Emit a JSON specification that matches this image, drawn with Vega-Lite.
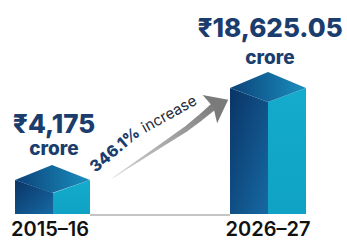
{
  "$schema": "https://vega.github.io/schema/vega-lite/v6.json",
  "width": 347,
  "height": 241,
  "autosize": {"type": "none"},
  "padding": 0,
  "background": "white",
  "config": {"view": {"stroke": null}},
  "datasets": {
    "faces": [
      {"bar": "2015–16", "face": "left", "x": 15, "top": 34, "base": 0},
      {"bar": "2015–16", "face": "left", "x": 53, "top": 21, "base": 0},
      {"bar": "2026–27", "face": "left", "x": 230, "top": 126, "base": 0},
      {"bar": "2026–27", "face": "left", "x": 268, "top": 112, "base": 0},
      {"bar": "2015–16", "face": "right", "x": 53, "top": 21, "base": 0},
      {"bar": "2015–16", "face": "right", "x": 90, "top": 34, "base": 0},
      {"bar": "2026–27", "face": "right", "x": 268, "top": 112, "base": 0},
      {"bar": "2026–27", "face": "right", "x": 306, "top": 126, "base": 0},
      {"bar": "2015–16", "face": "top", "x": 15, "top": 34, "base": 34},
      {"bar": "2015–16", "face": "top", "x": 52, "top": 49, "base": 21},
      {"bar": "2015–16", "face": "top", "x": 90, "top": 34, "base": 34},
      {"bar": "2026–27", "face": "top", "x": 230, "top": 126, "base": 126},
      {"bar": "2026–27", "face": "top", "x": 268, "top": 142, "base": 112},
      {"bar": "2026–27", "face": "top", "x": 306, "top": 126, "base": 126}
    ],
    "shaft": [
      {"x": 113, "h": 36},
      {"x": 126, "h": 45},
      {"x": 141, "h": 55},
      {"x": 156, "h": 65},
      {"x": 171, "h": 75},
      {"x": 186, "h": 85},
      {"x": 200, "h": 96},
      {"x": 213, "h": 107}
    ],
    "head": [{"x": 218, "h": 109}],
    "values": [
      {"year": "2015–16", "amount": "₹4,175", "unit": "crore", "x": 54, "h": 81, "hu": 59, "hy": -22, "xy": 50},
      {"year": "2026–27", "amount": "₹18,625.05", "unit": "crore", "x": 270, "h": 177, "hu": 150, "hy": -22, "xy": 268}
    ],
    "pct": [{"t": "346.1%", "x": 115, "h": 64}],
    "inc": [{"t": "increase", "x": 169, "h": 100}],
    "base": [{"x": 90, "x2": 230, "h": -1}]
  },
  "layer": [
    {
      "data": {"name": "base"},
      "mark": {"type": "rule", "color": "#8a8a8a", "strokeWidth": 1},
      "encoding": {
        "x": {"field": "x", "type": "quantitative", "scale": {"domain": [0, 347], "nice": false, "zero": false}, "axis": null},
        "x2": {"field": "x2"},
        "y": {"field": "h", "type": "quantitative", "scale": {"domain": [-27, 214], "nice": false, "zero": false}, "axis": null}
      }
    },
    {
      "data": {"name": "faces"},
      "transform": [{"filter": "datum.face === 'left'"}],
      "mark": {"type": "area", "color": {"gradient": "linear", "x1": 0, "y1": 0, "x2": 1, "y2": 1, "stops": [{"offset": 0, "color": "#0a3466"}, {"offset": 1, "color": "#1669a3"}]}},
      "encoding": {
        "x": {"field": "x", "type": "quantitative", "scale": {"domain": [0, 347], "nice": false, "zero": false}, "axis": null},
        "y": {"field": "top", "type": "quantitative", "scale": {"domain": [-27, 214], "nice": false, "zero": false}, "axis": null},
        "y2": {"field": "base"},
        "detail": {"field": "bar"}
      }
    },
    {
      "data": {"name": "faces"},
      "transform": [{"filter": "datum.face === 'right'"}],
      "mark": {"type": "area", "color": {"gradient": "linear", "x1": 0, "y1": 0, "x2": 0, "y2": 1, "stops": [{"offset": 0, "color": "#14abcc"}, {"offset": 1, "color": "#0fa2c4"}]}},
      "encoding": {
        "x": {"field": "x", "type": "quantitative", "scale": {"domain": [0, 347], "nice": false, "zero": false}, "axis": null},
        "y": {"field": "top", "type": "quantitative", "scale": {"domain": [-27, 214], "nice": false, "zero": false}, "axis": null},
        "y2": {"field": "base"},
        "detail": {"field": "bar"}
      }
    },
    {
      "data": {"name": "faces"},
      "transform": [{"filter": "datum.face === 'top'"}],
      "mark": {"type": "area", "color": {"gradient": "linear", "x1": 0, "y1": 0, "x2": 1, "y2": 0, "stops": [{"offset": 0, "color": "#0c4279"}, {"offset": 1, "color": "#1a8fbf"}]}},
      "encoding": {
        "x": {"field": "x", "type": "quantitative", "scale": {"domain": [0, 347], "nice": false, "zero": false}, "axis": null},
        "y": {"field": "top", "type": "quantitative", "scale": {"domain": [-27, 214], "nice": false, "zero": false}, "axis": null},
        "y2": {"field": "base"},
        "detail": {"field": "bar"}
      }
    },
    {
      "data": {"name": "shaft"},
      "mark": {"type": "trail", "color": {"gradient": "linear", "x1": 0, "y1": 1, "x2": 1, "y2": 0, "stops": [{"offset": 0, "color": "#d6d6d6"}, {"offset": 1, "color": "#7a7a7a"}]}},
      "encoding": {
        "x": {"field": "x", "type": "quantitative", "scale": {"domain": [0, 347], "nice": false, "zero": false}, "axis": null},
        "y": {"field": "h", "type": "quantitative", "scale": {"domain": [-27, 214], "nice": false, "zero": false}, "axis": null},
        "size": {"field": "x", "type": "quantitative", "scale": {"domain": [113, 213], "range": [0.5, 7], "zero": false}, "legend": null}
      }
    },
    {
      "data": {"name": "head"},
      "mark": {"type": "point", "shape": "M1,0 L-0.8,-1.4 L-0.45,0 L-0.8,1.4 Z", "filled": true, "color": "#7a7a7a", "opacity": 1, "size": 520, "angle": 333},
      "encoding": {
        "x": {"field": "x", "type": "quantitative", "scale": {"domain": [0, 347], "nice": false, "zero": false}, "axis": null},
        "y": {"field": "h", "type": "quantitative", "scale": {"domain": [-27, 214], "nice": false, "zero": false}, "axis": null}
      }
    },
    {
      "data": {"name": "pct"},
      "mark": {"type": "text", "font": "Inter", "fontWeight": 800, "fontSize": 16, "color": "#1a3d6d", "angle": 320, "align": "center", "baseline": "middle"},
      "encoding": {
        "x": {"field": "x", "type": "quantitative", "scale": {"domain": [0, 347], "nice": false, "zero": false}, "axis": null},
        "y": {"field": "h", "type": "quantitative", "scale": {"domain": [-27, 214], "nice": false, "zero": false}, "axis": null},
        "text": {"field": "t"}
      }
    },
    {
      "data": {"name": "inc"},
      "mark": {"type": "text", "font": "Inter", "fontWeight": 400, "fontSize": 15, "color": "#1e2a3a", "angle": 331, "align": "center", "baseline": "middle"},
      "encoding": {
        "x": {"field": "x", "type": "quantitative", "scale": {"domain": [0, 347], "nice": false, "zero": false}, "axis": null},
        "y": {"field": "h", "type": "quantitative", "scale": {"domain": [-27, 214], "nice": false, "zero": false}, "axis": null},
        "text": {"field": "t"}
      }
    },
    {
      "data": {"name": "values"},
      "mark": {"type": "text", "font": "Inter", "fontWeight": 800, "fontSize": 26, "color": "#1a3d6d", "align": "center", "baseline": "alphabetic"},
      "encoding": {
        "x": {"field": "x", "type": "quantitative", "scale": {"domain": [0, 347], "nice": false, "zero": false}, "axis": null},
        "y": {"field": "h", "type": "quantitative", "scale": {"domain": [-27, 214], "nice": false, "zero": false}, "axis": null},
        "text": {"field": "amount"}
      }
    },
    {
      "data": {"name": "values"},
      "mark": {"type": "text", "font": "Inter", "fontWeight": 800, "fontSize": 19, "color": "#1a3d6d", "align": "center", "baseline": "alphabetic"},
      "encoding": {
        "x": {"field": "x", "type": "quantitative", "scale": {"domain": [0, 347], "nice": false, "zero": false}, "axis": null},
        "y": {"field": "hu", "type": "quantitative", "scale": {"domain": [-27, 214], "nice": false, "zero": false}, "axis": null},
        "text": {"field": "unit"}
      }
    },
    {
      "data": {"name": "values"},
      "mark": {"type": "text", "font": "Inter", "fontWeight": 600, "fontSize": 20, "color": "#111111", "align": "center", "baseline": "alphabetic"},
      "encoding": {
        "x": {"field": "xy", "type": "quantitative", "scale": {"domain": [0, 347], "nice": false, "zero": false}, "axis": null},
        "y": {"field": "hy", "type": "quantitative", "scale": {"domain": [-27, 214], "nice": false, "zero": false}, "axis": null},
        "text": {"field": "year"}
      }
    }
  ]
}
